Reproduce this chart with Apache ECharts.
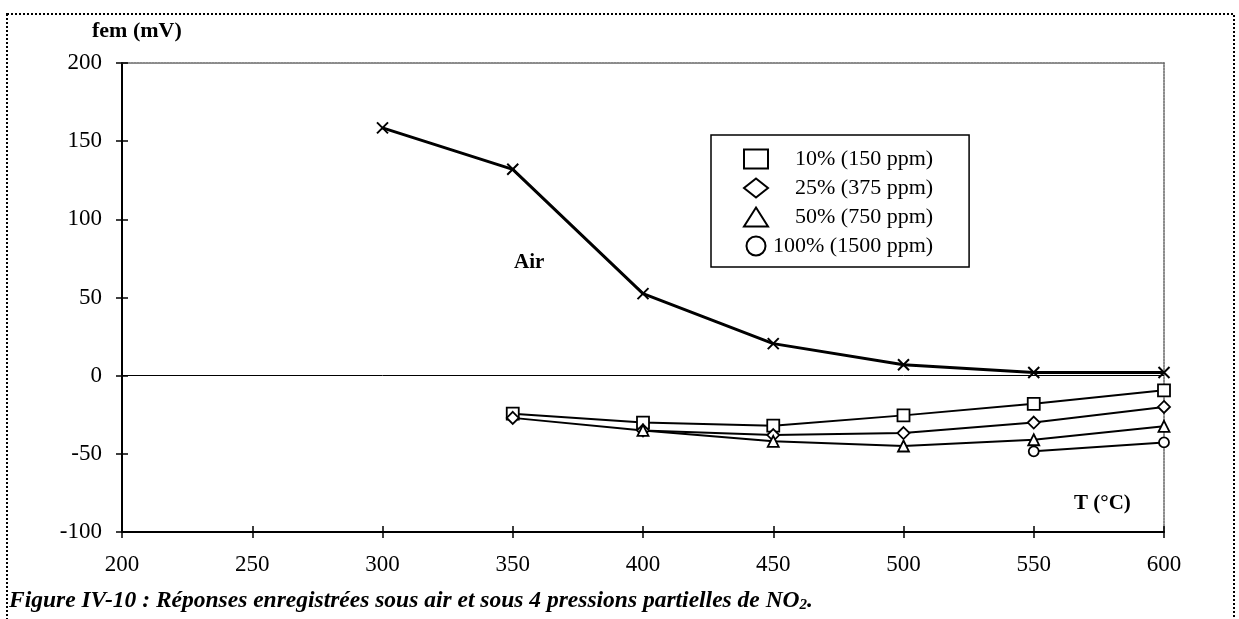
<!DOCTYPE html>
<html>
<head>
<meta charset="utf-8">
<script src="https://cdn.jsdelivr.net/npm/echarts@6/dist/echarts.min.js"></script>
<style>
  html, body { margin: 0; padding: 0; background: #fff; }
  #chart { width: 1239px; height: 619px; }
</style>
</head>
<body>
<div id="chart"></div>
<script>
// Temperatures (°C) on the x axis
const temperatures = [300, 350, 400, 450, 500, 550, 600];
// e.m.f. under air (mV)
const airValues = [158.5, 132, 52.5, 20.5, 7, 2, 2];
// e.m.f. under NO2 partial pressures (mV); null where not measured
const no2_10 = [null, -24.3, -30, -32, -25.4, -18, -9.4];
const no2_25 = [null, -27, -35, -38, -36.7, -30, -20];
const no2_50 = [null, null, -35, -42, -45, -41, -32.4];
const no2_100 = [null, null, null, null, null, -48.4, -42.7];
const seriesNames = ['10% (150 ppm)', '25% (375 ppm)', '50% (750 ppm)', '100% (1500 ppm)'];
const xTicks = { min: 200, max: 600, interval: 50 };
const yTicks = { min: -100, max: 200, interval: 50 };

const SERIF = '"Liberation Serif", "DejaVu Serif", serif';

function pairs(values) {
  return temperatures.map((t, i) => values[i] == null ? null : [t, values[i]]).filter(p => p);
}

const crossPath = 'path://M0,0L10,10M10,0L0,10';

function no2Series(name, values, symbol, size) {
  return {
    name: name,
    type: 'line',
    data: pairs(values),
    symbol: symbol,
    symbolSize: size,
    showAllSymbol: true,
    z: 3,
    lineStyle: { color: '#000', width: 2 },
    itemStyle: { color: '#fff', borderColor: '#000', borderWidth: 1.8 },
    emphasis: { disabled: true }
  };
}

const chart = echarts.init(document.getElementById('chart'), null, { renderer: 'canvas' });

const hiddenAxisBase = {
  type: 'value',
  axisLabel: { show: false },
  splitLine: { show: false }
};

chart.setOption({
  animation: false,
  backgroundColor: '#fff',
  textStyle: { fontFamily: SERIF, color: '#000' },
  grid: { left: 122, right: 75, top: 63, bottom: 87, containLabel: false },
  xAxis: [
    {
      type: 'value', min: xTicks.min, max: xTicks.max, interval: xTicks.interval,
      position: 'bottom',
      axisLine: { show: true, onZero: false, lineStyle: { color: '#000', width: 2 } },
      axisTick: { show: true, length: 6, lineStyle: { color: '#000', width: 1.5 } },
      axisLabel: { margin: 21, fontSize: 23, fontFamily: SERIF, color: '#000' },
      splitLine: { show: false }
    },
    Object.assign({}, hiddenAxisBase, {
      min: xTicks.min, max: xTicks.max, interval: xTicks.interval, position: 'bottom',
      axisLine: { show: false, onZero: false },
      axisTick: { show: true, inside: true, length: 6, lineStyle: { color: '#000', width: 1.5 } }
    }),
    Object.assign({}, hiddenAxisBase, {
      min: xTicks.min, max: xTicks.max, position: 'top',
      axisLine: { show: true, onZero: false, lineStyle: { color: '#666', width: 1.5, type: [2, 1] } },
      axisTick: { show: false }
    })
  ],
  yAxis: [
    {
      type: 'value', min: yTicks.min, max: yTicks.max, interval: yTicks.interval,
      position: 'left',
      axisLine: { show: true, onZero: false, lineStyle: { color: '#000', width: 2 } },
      axisTick: { show: true, length: 6, lineStyle: { color: '#000', width: 1.5 } },
      axisLabel: { margin: 20, fontSize: 23, fontFamily: SERIF, color: '#000' },
      splitLine: { show: false }
    },
    Object.assign({}, hiddenAxisBase, {
      min: yTicks.min, max: yTicks.max, interval: yTicks.interval, position: 'left',
      axisLine: { show: false, onZero: false },
      axisTick: { show: true, inside: true, length: 6, lineStyle: { color: '#000', width: 1.5 } }
    }),
    Object.assign({}, hiddenAxisBase, {
      min: yTicks.min, max: yTicks.max, position: 'right',
      axisLine: { show: true, onZero: false, lineStyle: { color: '#666', width: 1.5, type: [2, 1] } },
      axisTick: { show: false }
    })
  ],
  legend: {
    orient: 'vertical',
    left: 711, top: 135,
    padding: [13, 36, 10, 32],
    itemWidth: 24, itemHeight: 19, itemGap: 7,
    borderColor: '#000', borderWidth: 1.5,
    backgroundColor: '#fff',
    selectedMode: false,
    data: [
      { name: seriesNames[0], icon: 'rect' },
      { name: seriesNames[1], icon: 'diamond' },
      { name: seriesNames[2], icon: 'triangle' },
      { name: seriesNames[3], icon: 'circle' }
    ],
    formatter: name => name === seriesNames[3] ? '{t|' + name + '}' : '{s|}{t|' + name + '}',
    textStyle: {
      fontFamily: SERIF, fontSize: 22, lineHeight: 22, color: '#000',
      rich: {
        s: { width: 22, lineHeight: 22 },
        t: { fontFamily: SERIF, fontSize: 22, lineHeight: 22, color: '#000' }
      }
    }
  },
  graphic: [
    {
      type: 'rect', silent: true, z: -1,
      shape: { x: 7, y: 14, width: 1227, height: 640 },
      style: { fill: 'none', stroke: '#000', lineWidth: 2, lineDash: [2, 2] }
    },
    {
      type: 'text', left: 92, top: 20,
      style: { text: 'fem (mV)', font: 'bold 22px ' + SERIF, fill: '#000' }
    },
    {
      type: 'text', left: 514, top: 252,
      style: { text: 'Air', font: 'bold 21px ' + SERIF, fill: '#000' }
    },
    {
      type: 'text', left: 1074, top: 493,
      style: { text: 'T (°C)', font: 'bold 21px ' + SERIF, fill: '#000' }
    },
    {
      type: 'text', left: 9, top: 589,
      style: {
        text: 'Figure IV-10 : Réponses enregistrées sous air et sous 4 pressions partielles de NO{sub|2}.',
        font: 'italic bold 23.5px ' + SERIF, fill: '#000',
        rich: {
          sub: { font: 'italic bold 15px ' + SERIF, fill: '#000', padding: [9, 0, 0, 0] }
        }
      }
    }
  ],
  series: [
    {
      name: 'Air',
      type: 'line',
      data: pairs(airValues),
      symbol: crossPath,
      symbolSize: 11,
      z: 3,
      lineStyle: { color: '#000', width: 3 },
      itemStyle: { color: 'none', borderColor: '#000', borderWidth: 2 },
      emphasis: { disabled: true },
      markLine: {
        silent: true,
        symbol: 'none',
        label: { show: false },
        lineStyle: { color: '#000', width: 1, type: 'solid' },
        data: [{ yAxis: 0 }]
      }
    },
    no2Series(seriesNames[0], no2_10, 'rect', 12),
    no2Series(seriesNames[1], no2_25, 'diamond', 12),
    no2Series(seriesNames[2], no2_50, 'triangle', 11),
    no2Series(seriesNames[3], no2_100, 'circle', 10)
  ]
});
</script>
</body>
</html>
